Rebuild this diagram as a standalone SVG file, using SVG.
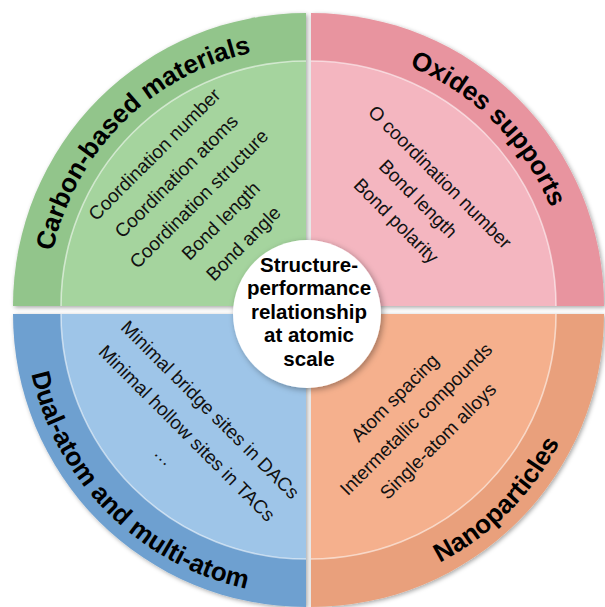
<svg xmlns="http://www.w3.org/2000/svg" width="605" height="607" viewBox="0 0 605 607">
  <defs>
    <style>
      .title { font-family: "Liberation Sans", Arial, sans-serif; font-weight: bold; font-size: 26px; fill: #000; }
      .item { font-family: "Liberation Sans", Arial, sans-serif; font-size: 19px; fill: #111; text-anchor: middle; }
      .hub { font-family: "Liberation Sans", Arial, sans-serif; font-weight: bold; font-size: 20.5px; fill: #000; text-anchor: middle; }
      .rim { fill: none; stroke: #ffffff; stroke-opacity: 0.55; stroke-width: 1.6; }
    </style>
    <filter id="soft" x="-10%" y="-10%" width="120%" height="120%">
      <feDropShadow dx="1.5" dy="1.5" stdDeviation="2" flood-color="#000" flood-opacity="0.35"/>
    </filter>
    <filter id="hubShadow" x="-20%" y="-20%" width="140%" height="140%">
      <feDropShadow dx="2" dy="2" stdDeviation="3" flood-color="#000" flood-opacity="0.35"/>
    </filter>
    <!-- arcs that carry the sector titles -->
    <path id="arcCarbon" d="M47,306 A259,259 0 0 1 306,47"/>
    <path id="arcOxide" d="M311,47 A259,259 0 0 1 570,306"/>
    <path id="arcDual" d="M25,314 A281,281 0 0 0 306,595"/>
    <path id="arcNano" d="M311,594 A280,280 0 0 0 591,314"/>
  </defs>

  <rect width="605" height="607" fill="#ffffff"/>

  <!-- Carbon-based materials -->
  <g id="carbon">
    <path d="M306,306 L13,306 A293,293 0 0 1 306,13 Z" fill="#92c58b" filter="url(#soft)"/>
    <path d="M306,306 L61,306 A245,245 0 0 1 306,61 Z" fill="#a5d49e"/>
    <path class="rim" d="M61,306 A245,245 0 0 1 306,61"/>
    <text class="title"><textPath href="#arcCarbon" startOffset="50%" text-anchor="middle">Carbon-based materials</textPath></text>
    <g transform="translate(306,306) rotate(-45)">
      <text class="item" x="0" y="-208">Coordination number</text>
      <text class="item" x="0" y="-177">Coordination atoms</text>
      <text class="item" x="0" y="-145">Coordination structure</text>
      <text class="item" x="0" y="-114">Bond length</text>
      <text class="item" x="0" y="-82">Bond angle</text>
    </g>
  </g>

  <!-- Oxides supports -->
  <g id="oxides">
    <path d="M311,306 L311,13 A293,293 0 0 1 604,306 Z" fill="#e8949f" filter="url(#soft)"/>
    <path d="M311,306 L311,61 A245,245 0 0 1 556,306 Z" fill="#f4b6c0"/>
    <path class="rim" d="M311,61 A245,245 0 0 1 556,306"/>
    <text class="title"><textPath href="#arcOxide" startOffset="50%" text-anchor="middle">Oxides supports</textPath></text>
    <g transform="translate(311,306) rotate(45)">
      <text class="item" x="0" y="-176">O coordination number</text>
      <text class="item" x="0" y="-145">Bond length</text>
      <text class="item" x="0" y="-114">Bond polarity</text>
    </g>
  </g>

  <!-- Dual-atom and multi-atom -->
  <g id="dual">
    <path d="M306,314 L306,607 A293,293 0 0 1 13,314 Z" fill="#6ea0d0" filter="url(#soft)"/>
    <path d="M306,314 L306,559 A245,245 0 0 1 61,314 Z" fill="#9ec5e8"/>
    <path class="rim" d="M306,559 A245,245 0 0 1 61,314"/>
    <text class="title"><textPath href="#arcDual" startOffset="50%" text-anchor="middle">Dual-atom and multi-atom</textPath></text>
    <g transform="translate(306,314) rotate(45)">
      <text class="item" x="0" y="142">Minimal bridge sites in DACs</text>
      <text class="item" x="0" y="175">Minimal hollow sites in TACs</text>
      <text class="item" x="0" y="207">…</text>
    </g>
  </g>

  <!-- Nanoparticles -->
  <g id="nano">
    <path d="M311,314 L604,314 A293,293 0 0 1 311,607 Z" fill="#e9a07b" filter="url(#soft)"/>
    <path d="M311,314 L556,314 A245,245 0 0 1 311,559 Z" fill="#f5b08d"/>
    <path class="rim" d="M556,314 A245,245 0 0 1 311,559"/>
    <text class="title"><textPath href="#arcNano" startOffset="50%" text-anchor="middle">Nanoparticles</textPath></text>
    <g transform="translate(311,314) rotate(-45)">
      <text class="item" x="0" y="125">Atom spacing</text>
      <text class="item" x="0" y="155">Intermetallic compounds</text>
      <text class="item" x="0" y="186">Single-atom alloys</text>
    </g>
  </g>

  <!-- central hub -->
  <g id="hub">
    <circle cx="307" cy="314" r="74" fill="#ffffff" filter="url(#hubShadow)"/>
    <text class="hub" x="309" y="271.5">Structure-</text>
    <text class="hub" x="309" y="295">performance</text>
    <text class="hub" x="309" y="318.5">relationship</text>
    <text class="hub" x="309" y="342">at atomic</text>
    <text class="hub" x="309" y="366">scale</text>
  </g>

  <g id="connectors"/>
</svg>
